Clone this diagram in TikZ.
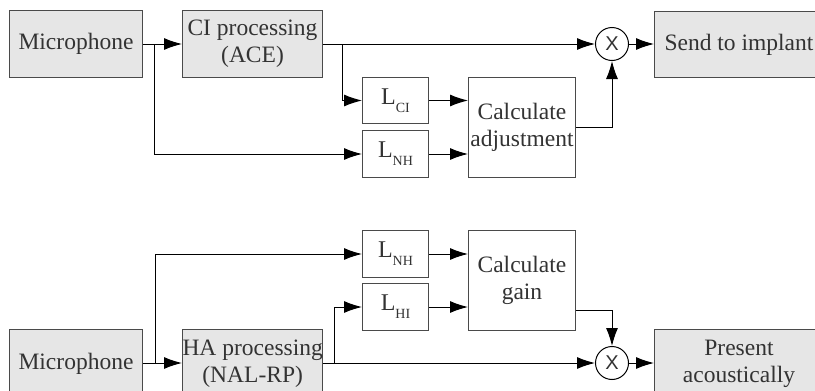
\documentclass[tikz,border=0pt]{standalone}
\usepackage{fontspec}
\setmainfont{Liberation Serif}
\newfontfamily\xfont{Liberation Sans}
\usetikzlibrary{arrows.meta}
\definecolor{boxfill}{HTML}{E6E6E6}
\definecolor{boxline}{HTML}{4A4A4A}
\definecolor{txt}{HTML}{333333}
\newcommand{\Lsub}[1]{\raisebox{3pt}{\fontsize{24}{24}\selectfont L\raisebox{-8pt}{\fontsize{14}{14}\selectfont #1}}}
\begin{document}
\begin{tikzpicture}[x=1pt,y=-1pt,
  every node/.style={font=\fontsize{23.5}{27}\selectfont, text=txt, inner sep=0pt},
  graybox/.style={draw=boxline, line width=1pt, fill=boxfill, anchor=north west, align=center},
  whitebox/.style={draw=boxline, line width=1pt, fill=white, anchor=north west, align=center},
  mult/.style={draw=black, line width=1pt, fill=white, circle, minimum size=33pt, font=\xfont\fontsize{20}{20}\selectfont, text=txt},
  conn/.style={line width=1pt, -{Latex[length=18pt,width=12pt]}},
  plain/.style={line width=1pt}]
\useasboundingbox (0,0) rectangle (815,391);
\clip (0,0) rectangle (815,391);
% ---- top row ----
\node[graybox, minimum width=133pt, minimum height=67pt] (mic1) at (9,10) {Microphone};
\node[graybox, minimum width=140pt, minimum height=67pt] (ci) at (182,10) {CI processing\\(ACE)};
\node[whitebox, minimum width=66pt, minimum height=46pt] (lci) at (362,77) {\Lsub{CI}};
\node[whitebox, minimum width=66pt, minimum height=47pt] (lnh1) at (362,130) {\Lsub{NH}};
\node[whitebox, minimum width=107pt, minimum height=100pt] (adj) at (468,77) {Calculate\\adjustment};
\node[mult] (x1) at (612,44) {X};
\node[graybox, minimum width=169pt, minimum height=66pt] (send) at (654,11) {Send to implant};
\coordinate (b1) at (154,44);
\coordinate (b2) at (342,44);
\draw[conn] (mic1.east |- x1) -- (ci.west |- x1);
\draw[conn] (b1) |- (lnh1.west);
\draw[conn] (ci.east |- x1) -- (x1.west);
\draw[conn] (b2) |- (lci.west);
\draw[conn] (lci.east) -- (lci.east -| adj.west);
\draw[conn] (lnh1.east) -- (lnh1.east -| adj.west);
\draw[conn] (adj.east) -| (x1.south);
\draw[conn] (x1.east) -- (send.west |- x1);
% ---- bottom row ----
\node[whitebox, minimum width=66pt, minimum height=47pt] (lnh2) at (362,230) {\Lsub{NH}};
\node[whitebox, minimum width=66pt, minimum height=47pt] (lhi) at (362,283) {\Lsub{HI}};
\node[whitebox, minimum width=107pt, minimum height=100pt] (gain) at (468,230) {Calculate\\gain};
\node[graybox, minimum width=133pt, minimum height=68pt] (mic2) at (9,329) {Microphone};
\node[graybox, minimum width=140pt, minimum height=68pt] (ha) at (182,329) {HA processing\\(NAL-RP)};
\node[mult] (x2) at (612,363) {X};
\node[graybox, minimum width=169pt, minimum height=68pt] (pres) at (654,329) {Present\\acoustically};
\coordinate (b3) at (155,363);
\coordinate (b4) at (334,363);
\draw[conn] (mic2.east |- x2) -- (ha.west |- x2);
\draw[conn] (b3) |- (lnh2.west);
\draw[conn] (ha.east |- x2) -- (x2.west);
\draw[conn] (b4) |- (lhi.west);
\draw[conn] (lnh2.east) -- (lnh2.east -| gain.west);
\draw[conn] (lhi.east) -- (lhi.east -| gain.west);
\draw[conn] ([yshift=-30pt]gain.east) -| (x2.north);
\draw[conn] (x2.east) -- (pres.west |- x2);
\end{tikzpicture}
\end{document}
